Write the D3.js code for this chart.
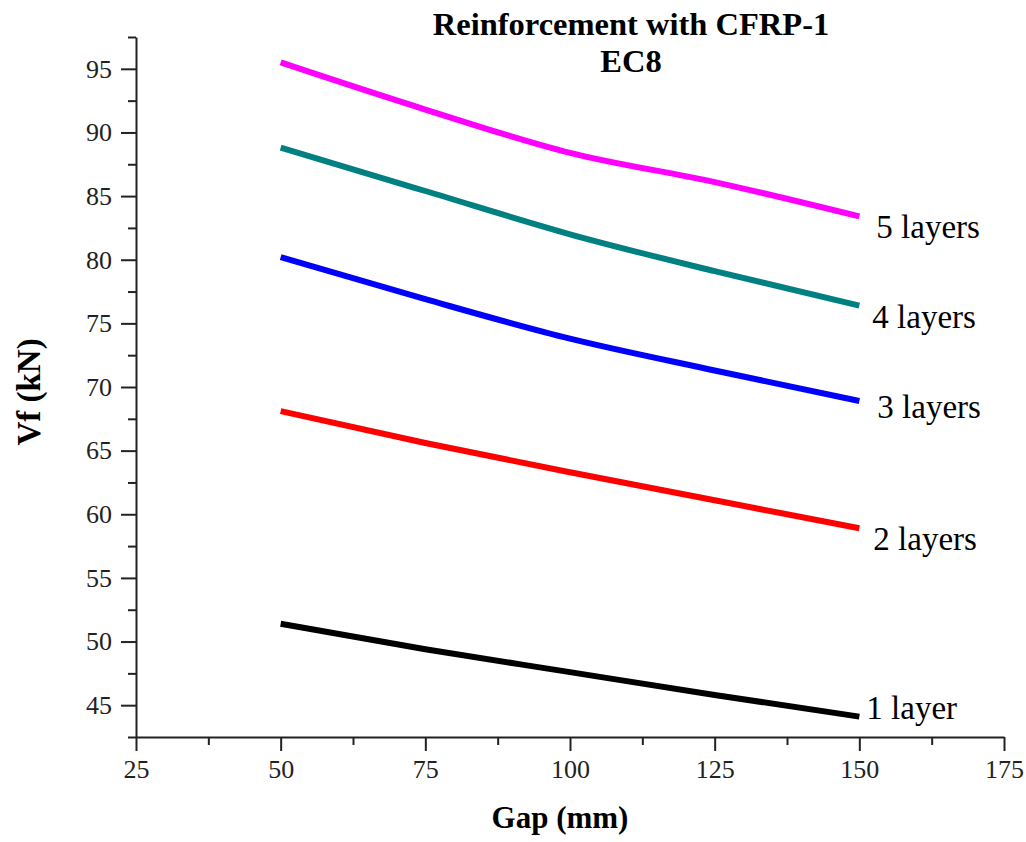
<!DOCTYPE html>
<html>
<head>
<meta charset="utf-8">
<script src="https://cdn.jsdelivr.net/npm/d3@7"></script>
<style>
    body { margin: 0; background: #fff; }
    text { font-family: "Liberation Serif", "Times New Roman", serif; }
</style>
</head>
<body>
<script>

// data
var gaps = [50, 75, 100, 125, 150];
var layers5 = [95.5, 91.8, 88.4, 86.1, 83.4];
var layers4 = [88.8, 85.4, 82.0, 79.1, 76.4];
var layers3 = [80.2, 76.9, 73.8, 71.3, 68.9];
var layers2 = [68.1, 65.6, 63.3, 61.1, 58.9];
var layers1 = [51.4, 49.4, 47.6, 45.8, 44.1];
var seriesNames = ["5 layers", "4 layers", "3 layers", "2 layers", "1 layer"];
var seriesColors = ["#ff00ff", "#008080", "#0000ff", "#ff0000", "#000000"];
var xTicks = [25, 50, 75, 100, 125, 150, 175];
var xMinorTicks = [37.5, 62.5, 87.5, 112.5, 137.5, 162.5];
var yTicks = [45, 50, 55, 60, 65, 70, 75, 80, 85, 90, 95];
var yMinorTicks = [42.5, 47.5, 52.5, 57.5, 62.5, 67.5, 72.5, 77.5, 82.5, 87.5, 92.5, 97.5];

var width = 1026;
var height = 842;

var svg = d3.select("body").append("svg")
    .attr("width", width)
    .attr("height", height);

// set the ranges
var xScale = d3.scaleLinear().domain([25, 175]).range([136, 1004]);
var yScale = d3.scaleLinear().domain([42.5, 97.5]).range([737, 37]);

// build series
var series = [layers5, layers4, layers3, layers2, layers1].map(function(vals, i) {
    return {
        name: seriesNames[i],
        color: seriesColors[i],
        points: vals.map(function(v, j) { return { x: gaps[j], y: v }; })
    };
});

var line = d3.line()
    .curve(d3.curveMonotoneX)
    .x(function(d) { return xScale(d.x); })
    .y(function(d) { return yScale(d.y); });

svg.selectAll(".series")
    .data(series)
    .enter()
    .append("path")
        .attr("fill", "none")
        .attr("stroke", function(d) { return d.color; })
        .attr("stroke-width", 6)
        .attr("d", function(d) { return line(d.points); });

// series labels, offset from the last point
var labelDx = [17, 13, 18, 14, 7];
var labelDy = [22, 22, 17, 22, 2];
svg.selectAll(".label")
    .data(series)
    .enter()
    .append("text")
        .attr("x", function(d, i) { return xScale(gaps[gaps.length - 1]) + labelDx[i]; })
        .attr("y", function(d, i) { return yScale(d.points[d.points.length - 1].y) + labelDy[i]; })
        .attr("font-size", "33px")
        .attr("fill", "#000")
        .text(function(d) { return d.name; });

// minor ticks first so major ones sit on top
svg.append("g")
    .attr("transform", "translate(0,737)")
    .call(d3.axisBottom(xScale).tickValues(xMinorTicks).tickSize(8).tickFormat(""))
    .call(function(g) { g.select(".domain").remove(); });

svg.append("g")
    .attr("transform", "translate(136,0)")
    .call(d3.axisLeft(yScale).tickValues(yMinorTicks).tickSize(8).tickFormat(""))
    .call(function(g) { g.select(".domain").remove(); });

// Add the X Axis
var xAxis = svg.append("g")
    .attr("transform", "translate(0,737)")
    .call(d3.axisBottom(xScale).tickValues(xTicks).tickSize(14).tickSizeOuter(0).tickPadding(9));

// Add the Y Axis
var yAxis = svg.append("g")
    .attr("transform", "translate(136,0)")
    .call(d3.axisLeft(yScale).tickValues(yTicks).tickSize(15).tickSizeOuter(0).tickPadding(9));

svg.selectAll(".domain, .tick line")
    .attr("stroke", "#222")
    .attr("stroke-width", 2);

xAxis.selectAll("text")
    .attr("font-family", "Liberation Serif")
    .attr("font-size", "26px")
    .attr("fill", "#222");

yAxis.selectAll("text")
    .attr("font-family", "Liberation Serif")
    .attr("font-size", "26px")
    .attr("fill", "#222");

// title
svg.append("text")
    .attr("x", 631)
    .attr("y", 35)
    .attr("text-anchor", "middle")
    .attr("font-size", "32.5px")
    .attr("font-weight", "bold")
    .text("Reinforcement with CFRP-1");

svg.append("text")
    .attr("x", 631)
    .attr("y", 72)
    .attr("text-anchor", "middle")
    .attr("font-size", "32.5px")
    .attr("font-weight", "bold")
    .text("EC8");

// text label for the x axis
svg.append("text")
    .attr("x", 560)
    .attr("y", 828)
    .attr("text-anchor", "middle")
    .attr("font-size", "31px")
    .attr("font-weight", "bold")
    .text("Gap (mm)");

// text label for the y axis
svg.append("text")
    .attr("transform", "translate(40,392) rotate(-90)")
    .attr("text-anchor", "middle")
    .attr("font-size", "33px")
    .attr("font-weight", "bold")
    .text("Vf (kN)");

</script>
</body>
</html>
